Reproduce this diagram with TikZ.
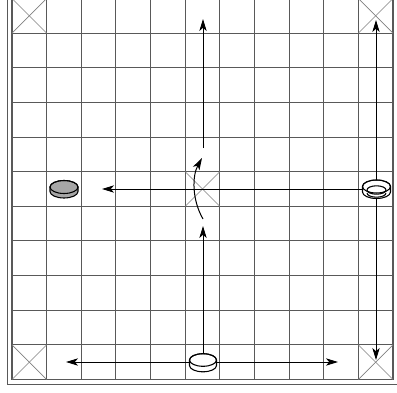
\documentclass[tikz,border=0pt]{standalone}
\usetikzlibrary{arrows.meta}
\newcommand\drawdisk[6]{%
  \filldraw[fill=#6, draw=black, line width=0.8pt]
    ({#1-#3},{#2}) -- ({#1-#3},{#2+#5})
    arc[start angle=180,end angle=0,x radius=#3,y radius=#4]
    -- ({#1+#3},{#2})
    arc[start angle=0,end angle=-180,x radius=#3,y radius=#4] -- cycle;
  \draw[line width=0.8pt] ({#1},{#2}) ellipse[x radius=#3, y radius=#4];
}
\begin{document}
\begin{tikzpicture}[x=0.75pt,y=-0.75pt,
  gridline/.style={draw=black!65, line width=0.8pt},
  crossline/.style={draw=black!50, line width=0.5pt},
  move/.style={draw=black, line width=0.75pt, -{Stealth[length=9pt,width=5.5pt,inset=2.4pt]}},
  dmove/.style={draw=black, line width=0.75pt, {Stealth[length=9pt,width=5.5pt,inset=2.4pt]}-{Stealth[length=9pt,width=5.5pt,inset=2.4pt]}},
  ]
\useasboundingbox (0,0) rectangle (397,393);
\begin{scope}
\clip (0,0) rectangle (397,393);
\draw[gridline] (7.3,-10) rectangle (410,384.7);
\foreach \i in {0,...,11} {
  \draw[gridline] ({12+\i*34.636},-1.5) -- ({12+\i*34.636},379.5);
  \draw[gridline] (12,{-1.5+\i*34.636}) -- (393,{-1.5+\i*34.636});
}
\foreach \c/\r in {0/0,10/0,0/10,10/10,5/5} {
  \draw[crossline] ({12+\c*34.636},{-1.5+\r*34.636}) -- ({12+(\c+1)*34.636},{-1.5+(\r+1)*34.636});
  \draw[crossline] ({12+(\c+1)*34.636},{-1.5+\r*34.636}) -- ({12+\c*34.636},{-1.5+(\r+1)*34.636});
}
\end{scope}
% named end points
\coordinate (bp) at (203,362);
\coordinate (upTip) at (203,226);
\coordinate (cS) at (203,219);
\coordinate (cE) at (202,158);
\coordinate (tS) at (203,148);
\coordinate (tT) at (203,19);
\coordinate (rp) at (376,189);
\coordinate (lT) at (102,189);
\coordinate (rvT) at (376,20);
\coordinate (rvB) at (376,360);
\coordinate (bhL) at (66,362);
\coordinate (bhR) at (338,362);
% connectors
\draw[move] (bp) -- (upTip);
\draw[move] (cS) .. controls (192,200) and (192,176) .. (cE);
\draw[move] (tS) -- (tT);
\draw[move] (rp) -- (lT);
\draw[dmove] (rvT) -- (rvB);
\draw[dmove] (bhL) -- (bhR);
% pieces
\drawdisk{64}{187}{14}{6.5}{4.5}{black!35}
\drawdisk{376.5}{186.5}{14}{6.5}{5.5}{white}
\draw[line width=0.8pt] (376.5,190) ellipse[x radius=9.5, y radius=4.2];
\draw[line width=0.8pt] (367,193) arc[start angle=180,end angle=0,x radius=9.5,y radius=4.2];
\drawdisk{203}{360}{13.5}{6.3}{5.5}{white}
\end{tikzpicture}
\end{document}
